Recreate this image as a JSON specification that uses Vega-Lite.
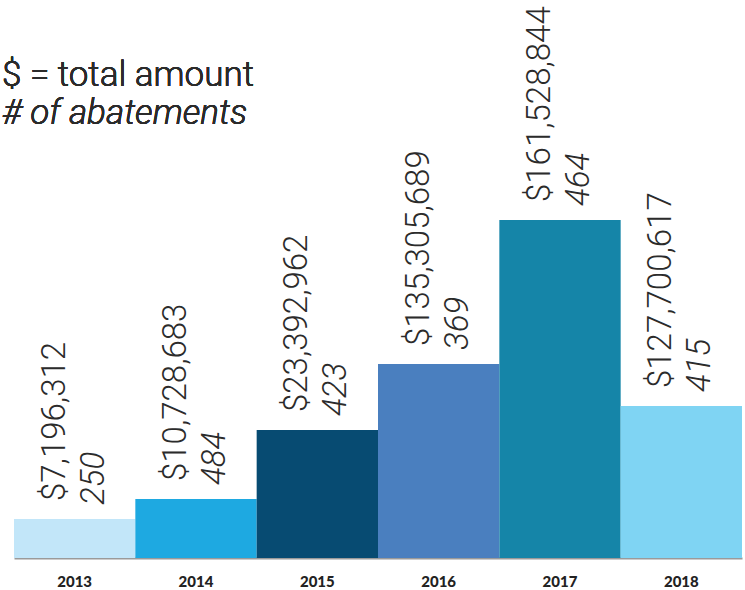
{
  "$schema": "https://vega.github.io/schema/vega-lite/v6.json",
  "width": 745,
  "height": 558,
  "autosize": {"type": "none"},
  "padding": {"left": 0, "top": 0, "right": 0, "bottom": 32},
  "background": "white",
  "config": {"view": {"stroke": null}},
  "data": {
    "values": [
      {"year": "2013", "amount": 7196312, "count": 250, "bar": 39},
      {"year": "2014", "amount": 10728683, "count": 484, "bar": 59},
      {"year": "2015", "amount": 23392962, "count": 423, "bar": 128},
      {"year": "2016", "amount": 135305689, "count": 369, "bar": 194},
      {"year": "2017", "amount": 161528844, "count": 464, "bar": 338},
      {"year": "2018", "amount": 127700617, "count": 415, "bar": 152}
    ]
  },
  "encoding": {
    "x": {
      "field": "year", "type": "nominal", "sort": null,
      "scale": {"range": [14, 742], "paddingInner": 0, "paddingOuter": 0},
      "axis": {
        "title": null, "labelAngle": 0, "ticks": false,
        "domainColor": "#9a9a9a", "domainWidth": 2,
        "labelFont": "Lato", "labelFontWeight": 900, "labelFontSize": 15,
        "labelColor": "#222222", "labelPadding": 16
      }
    },
    "y": {
      "field": "bar", "type": "quantitative",
      "scale": {"domain": [0, 558], "nice": false, "zero": true},
      "axis": null
    }
  },
  "layer": [
    {
      "mark": {"type": "bar"},
      "encoding": {
        "color": {
          "field": "year", "type": "nominal", "legend": null,
          "scale": {
            "domain": ["2013", "2014", "2015", "2016", "2017", "2018"],
            "range": ["#c2e6f9", "#1ea9e1", "#074b72", "#4a7fbf", "#1585a8", "#7fd4f3"]
          }
        }
      }
    },
    {
      "mark": {"type": "text", "angle": 270, "align": "left", "baseline": "middle", "dx": 18, "dy": -20, "font": "Roboto", "fontWeight": 300, "fontSize": 33, "color": "#2b2b2b"},
      "encoding": {"text": {"field": "amount", "type": "quantitative", "format": "$,.0f"}}
    },
    {
      "mark": {"type": "text", "angle": 270, "align": "left", "baseline": "middle", "dx": 14, "dy": 19, "font": "Roboto", "fontWeight": 300, "fontStyle": "italic", "fontSize": 33, "color": "#2b2b2b"},
      "encoding": {"text": {"field": "count", "type": "quantitative", "format": "d"}}
    },
    {
      "mark": {"type": "text", "align": "left", "baseline": "middle", "dx": -12, "font": "Roboto", "fontWeight": 300, "fontSize": 35, "color": "#2b2b2b"},
      "encoding": {
        "x": {"datum": "2013", "bandPosition": 0},
        "y": {"datum": 483},
        "text": {"value": "$ = total amount"}
      }
    },
    {
      "mark": {"type": "text", "align": "left", "baseline": "middle", "dx": -12, "font": "Roboto", "fontWeight": 300, "fontStyle": "italic", "fontSize": 35, "color": "#2b2b2b"},
      "encoding": {
        "x": {"datum": "2013", "bandPosition": 0},
        "y": {"datum": 445},
        "text": {"value": "# of abatements"}
      }
    }
  ]
}
